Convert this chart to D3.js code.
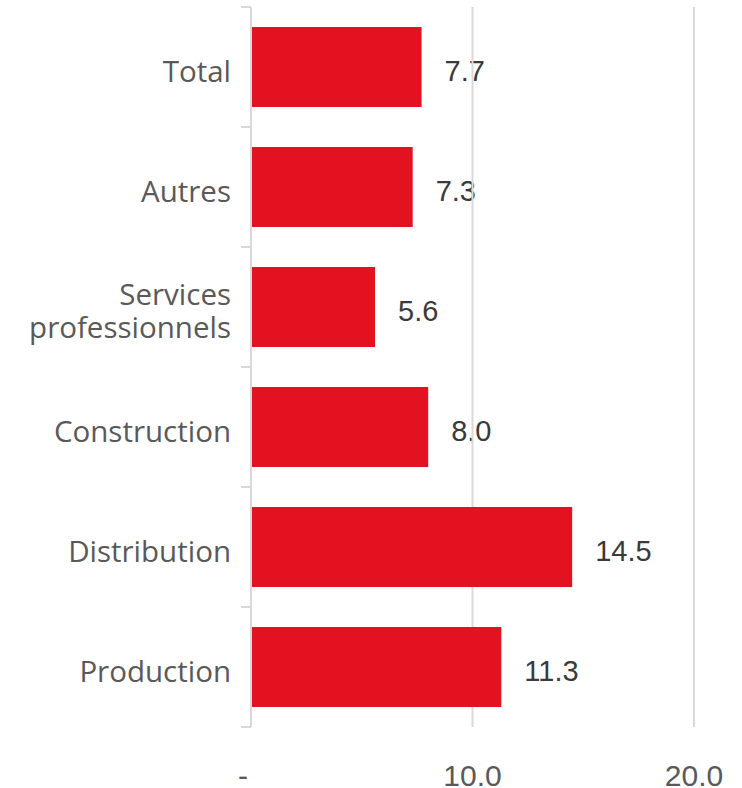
<!DOCTYPE html>
<html>
<head>
<meta charset="utf-8">
<script src="https://cdn.jsdelivr.net/npm/d3@7"></script>
<style>
  html, body { margin: 0; padding: 0; background: #fff; }
  svg { display: block; }
  .cat { font-family: "Open Sans", "Noto Sans", sans-serif; }
  .num { font-family: "Liberation Sans", Arial, sans-serif; }
</style>
</head>
<body>
<svg id="chart" width="742" height="788"></svg>
<script>
// Sector values (top to bottom)
const categories = ["Total", "Autres", "Services professionnels", "Construction", "Distribution", "Production"];
const values = [7.7, 7.3, 5.6, 8.0, 14.5, 11.3];
const xTicks = [0, 10, 20];
const xTickLabels = ["-", "10.0", "20.0"];

const svg = d3.select("#chart");
const x0 = 251, x1 = 694;
const y0 = 7, y1 = 727;

const x = d3.scaleLinear().domain([0, 20]).range([x0, x1]);
const y = d3.scaleBand().domain(categories).range([y0, y1])
  .paddingInner(1 / 3).paddingOuter(1 / 6);

const gridColor = "#d9d9d9";

// value labels
svg.append("g").selectAll("text")
  .data(categories)
  .join("text")
  .attr("class", "num")
  .attr("x", (d, i) => x(values[i]) + 23)
  .attr("y", d => y(d) + y.bandwidth() / 2 + 6)
  .attr("dominant-baseline", "middle")
  .attr("font-size", 29)
  .attr("fill", "#3a3a3a")
  .text((d, i) => values[i].toFixed(1));

// vertical gridlines
svg.append("g").selectAll("line")
  .data(xTicks.filter(d => d > 0))
  .join("line")
  .attr("x1", d => x(d)).attr("x2", d => x(d))
  .attr("y1", y0).attr("y2", y1)
  .attr("stroke", gridColor).attr("stroke-width", 2);

// bars
svg.append("g").selectAll("rect")
  .data(categories)
  .join("rect")
  .attr("x", x(0))
  .attr("y", d => y(d))
  .attr("width", (d, i) => x(values[i]) - x(0))
  .attr("height", y.bandwidth())
  .attr("fill", "#e31220");

// category axis: line plus ticks at band boundaries
const boundaries = d3.range(categories.length + 1).map(i => y0 + i * y.step());
svg.append("line")
  .attr("x1", x0).attr("x2", x0).attr("y1", y0).attr("y2", y1)
  .attr("stroke", gridColor).attr("stroke-width", 2);
svg.append("g").selectAll("line")
  .data(boundaries)
  .join("line")
  .attr("x1", x0 - 10).attr("x2", x0)
  .attr("y1", d => d).attr("y2", d => d)
  .attr("stroke", gridColor).attr("stroke-width", 2);

// category labels (wrapped where needed)
const wrap = { "Services professionnels": ["Services", "professionnels"] };
const catG = svg.append("g");
categories.forEach(c => {
  const lines = wrap[c] || [c];
  const cy = y(c) + y.bandwidth() / 2 + 7;
  const lh = 33;
  const t = catG.append("text")
    .attr("class", "cat")
    .attr("text-anchor", "end")
    .attr("font-size", 29.5)
    .attr("fill", "#595959");
  lines.forEach((l, i) => {
    t.append("tspan")
      .attr("x", 231)
      .attr("y", cy + (i - (lines.length - 1) / 2) * lh)
      .attr("dominant-baseline", "middle")
      .text(l);
  });
});

// value axis labels
svg.append("g").selectAll("text")
  .data(xTicks)
  .join("text")
  .attr("class", "num")
  .attr("x", d => d === 0 ? x(d) - 8 : x(d))
  .attr("y", 786)
  .attr("text-anchor", "middle")
  .attr("font-size", 30)
  .attr("fill", "#595959")
  .text((d, i) => xTickLabels[i]);
</script>
</body>
</html>
